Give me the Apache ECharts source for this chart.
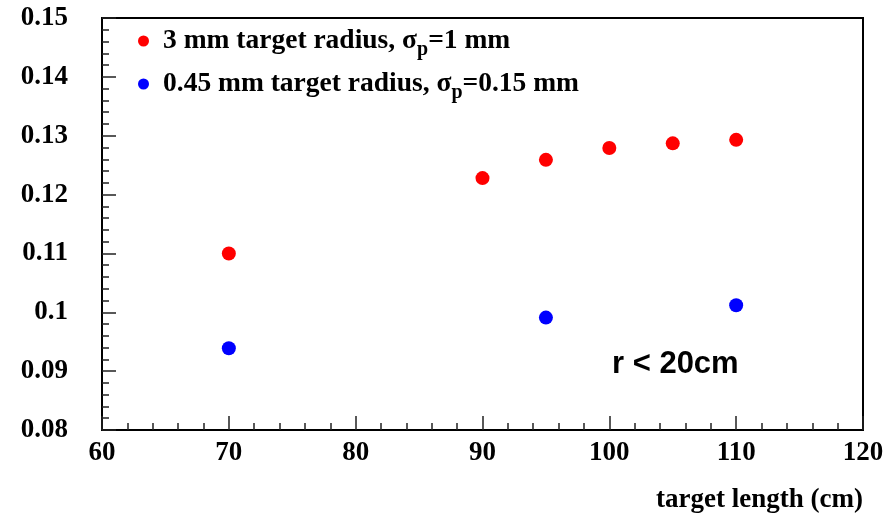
<!DOCTYPE html>
<html>
<head>
<meta charset="utf-8">
<script src="https://cdn.jsdelivr.net/npm/echarts@6/dist/echarts.min.js"></script>
<style>
  html, body { margin: 0; padding: 0; background: #fff; }
</style>
</head>
<body>
<div id="chart" style="width: 892px; height: 518px;"></div>
<script>
// 3 mm target radius, sigma_p = 1 mm
var lengthWide = [70, 90, 95, 100, 105, 110]
var valueWide = [0.1100, 0.1228, 0.1259, 0.1279, 0.1287, 0.1293]
// 0.45 mm target radius, sigma_p = 0.15 mm
var lengthNarrow = [70, 95, 110]
var valueNarrow = [0.0939, 0.0991, 0.1012]

var nameWide = '3 mm target radius, σp=1 mm'
var nameNarrow = '0.45 mm target radius, σp=0.15 mm'

function pairs(xs, ys) {
  return xs.map(function (x, i) { return [x, ys[i]] })
}

var serif = '"Liberation Serif", "Times New Roman", serif'

var myChart = echarts.init(document.getElementById('chart'))
var option = {
  animation: false,
  backgroundColor: '#fff',
  grid: {
    left: 102,
    right: 29,
    top: 18,
    bottom: 88,
    show: true,
    borderColor: '#000',
    borderWidth: 2
  },
  title: {
    text: 'r < 20cm',
    left: 607,
    top: 344,
    textStyle: {
      fontFamily: '"Liberation Sans", Arial, sans-serif',
      fontWeight: 'bold',
      fontSize: 31,
      color: '#000'
    }
  },
  legend: {
    orient: 'vertical',
    left: 133,
    top: 17,
    itemGap: 5,
    itemWidth: 11,
    itemHeight: 11,
    icon: 'circle',
    data: [nameWide, nameNarrow],
    formatter: function (name) {
      var parts = name.split('σp')
      return '{a|' + parts[0] + 'σ}{s|p}{a|' + parts[1] + '}'
    },
    textStyle: {
      padding: [0, 0, 0, 9],
      rich: {
        a: {
          fontFamily: serif,
          fontWeight: 'bold',
          fontSize: 27.5,
          color: '#000',
          lineHeight: 30
        },
        s: {
          fontFamily: serif,
          fontWeight: 'bold',
          fontSize: 20,
          color: '#000',
          padding: [18, 0, 0, 0],
          lineHeight: 30
        }
      }
    }
  },
  xAxis: {
    type: 'value',
    min: 60,
    max: 120,
    interval: 10,
    name: 'target length (cm)',
    nameLocation: 'end',
    nameGap: 0,
    nameTextStyle: {
      fontFamily: serif,
      fontWeight: 'bold',
      fontSize: 27,
      color: '#000',
      align: 'right',
      verticalAlign: 'top',
      padding: [57, 0, 0, 0]
    },
    axisLine: { lineStyle: { color: '#000', width: 2 } },
    axisTick: { inside: true, length: 14, lineStyle: { color: '#222', width: 1.5 } },
    minorTick: { show: true, splitNumber: 5, length: 7, lineStyle: { color: '#222', width: 1.5 } },
    splitLine: { show: false },
    axisLabel: {
      margin: 10,
      fontFamily: serif,
      fontWeight: 'bold',
      fontSize: 27,
      color: '#000'
    }
  },
  yAxis: {
    type: 'value',
    min: 0.08,
    max: 0.15,
    interval: 0.01,
    axisLine: { show: true, lineStyle: { color: '#000', width: 2 } },
    axisTick: { show: true, inside: true, length: 14, lineStyle: { color: '#222', width: 1.5 } },
    minorTick: { show: true, splitNumber: 5, length: 7, lineStyle: { color: '#222', width: 1.5 } },
    splitLine: { show: false },
    axisLabel: {
      margin: 34,
      fontFamily: serif,
      fontWeight: 'bold',
      fontSize: 27,
      color: '#000',
      formatter: function (v) { return String(+v.toFixed(2)) }
    }
  },
  series: [
    {
      name: nameWide,
      type: 'scatter',
      symbol: 'circle',
      symbolSize: 14,
      itemStyle: { color: '#ff0000', opacity: 1 },
      data: pairs(lengthWide, valueWide)
    },
    {
      name: nameNarrow,
      type: 'scatter',
      symbol: 'circle',
      symbolSize: 14,
      itemStyle: { color: '#0000ff', opacity: 1 },
      data: pairs(lengthNarrow, valueNarrow)
    }
  ]
}
option && myChart.setOption(option)
</script>
</body>
</html>
